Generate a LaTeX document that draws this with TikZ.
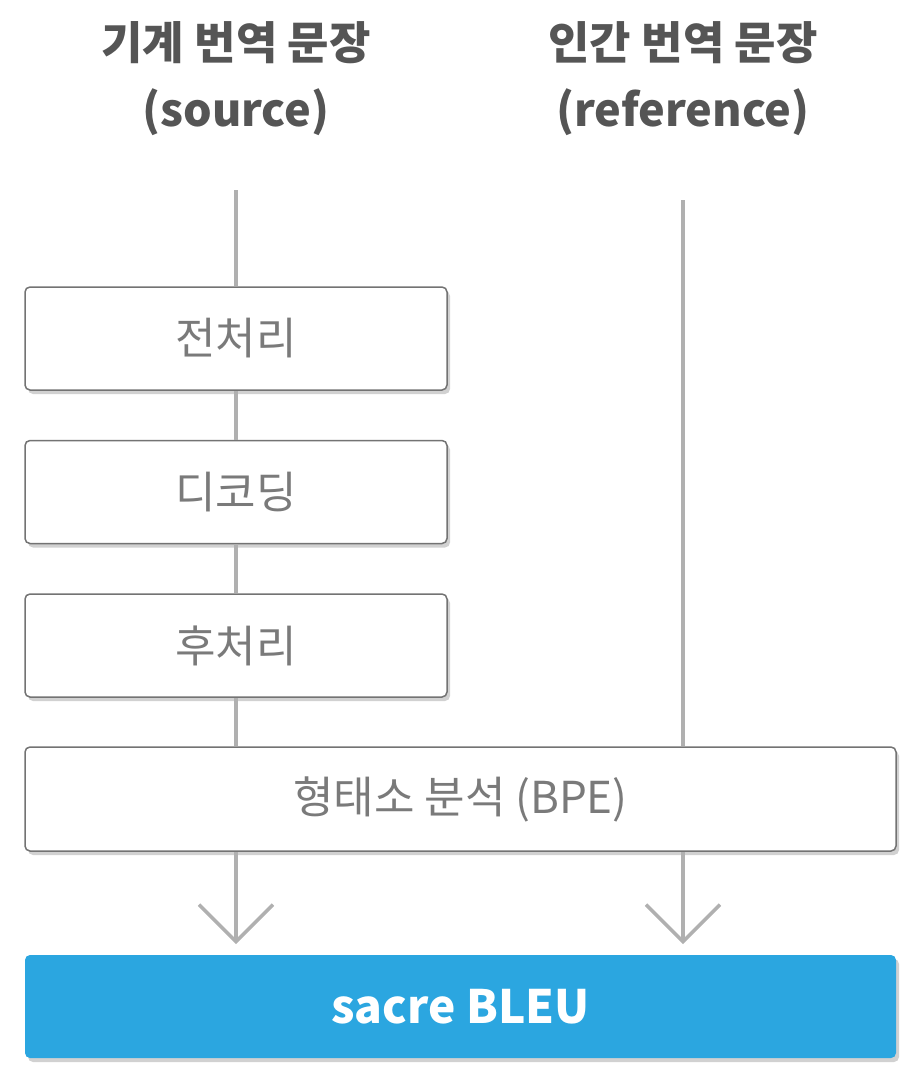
\documentclass[tikz,border=0pt]{standalone}
\usepackage{fontspec}
\setmainfont{Noto Sans CJK KR}
\usetikzlibrary{shadows,arrows.meta}
\definecolor{boxline}{HTML}{737373}
\definecolor{conn}{HTML}{B0B0B0}
\definecolor{boxtext}{HTML}{7A7A7A}
\definecolor{titletext}{HTML}{555555}
\definecolor{bleu}{HTML}{2BA6E0}
\begin{document}
\begin{tikzpicture}[x=1pt,y=-1pt,
  stepbox/.style={draw=boxline,line width=1.5pt,fill=white,rounded corners=5pt,
    minimum width=422pt,minimum height=103pt,inner sep=0pt,
    font=\fontsize{44}{48}\selectfont,text=boxtext,
    drop shadow={shadow xshift=3pt,shadow yshift=-4pt,opacity=0.3,fill=black!60}},
  widebox/.style={stepbox,minimum width=871pt,minimum height=104pt},
  bleubox/.style={fill=bleu,rounded corners=5pt,minimum width=871pt,minimum height=103pt,
    inner sep=0pt,text=white,font=\fontsize{46}{50}\selectfont\bfseries,
    drop shadow={shadow xshift=3pt,shadow yshift=-4pt,opacity=0.3,fill=black!60}},
  title/.style={font=\fontsize{45}{67}\selectfont\bfseries,text=titletext,align=center},
  conn/.style={draw=conn,line width=3.5pt},
  arr/.style={conn,-{Straight Barb[length=37pt,width=74pt,line width=3.5pt]}}
]
\useasboundingbox (0,0) rectangle (923,1087);
\node[title] (t1) at (236,79) {기계 번역 문장\\(source)};
\node[title] (t2) at (683,79) {인간 번역 문장\\(reference)};
\coordinate (s1) at (236,190);
\coordinate (s2) at (683,200);
\coordinate (e1) at (236,944);
\coordinate (e2) at (683,944);
\node[stepbox] (pre) at (236,338.5) {전처리};
\node[stepbox] (dec) at (236,492) {디코딩};
\node[stepbox] (post) at (236,645.5) {후처리};
\node[widebox] (bpe) at (460.5,799) {형태소 분석 (BPE)};
\node[bleubox] (bleu) at (460.5,1006.5) {sacre BLEU};
\draw[conn] (s1) -- (pre.north);
\draw[conn] (pre.south) -- (dec.north);
\draw[conn] (dec.south) -- (post.north);
\draw[conn] (post.south) -- (bpe.north -| post.south);
\draw[conn] (s2) -- (bpe.north -| s2);
\draw[arr] (bpe.south -| e1) -- (e1);
\draw[arr] (bpe.south -| e2) -- (e2);
\end{tikzpicture}
\end{document}
